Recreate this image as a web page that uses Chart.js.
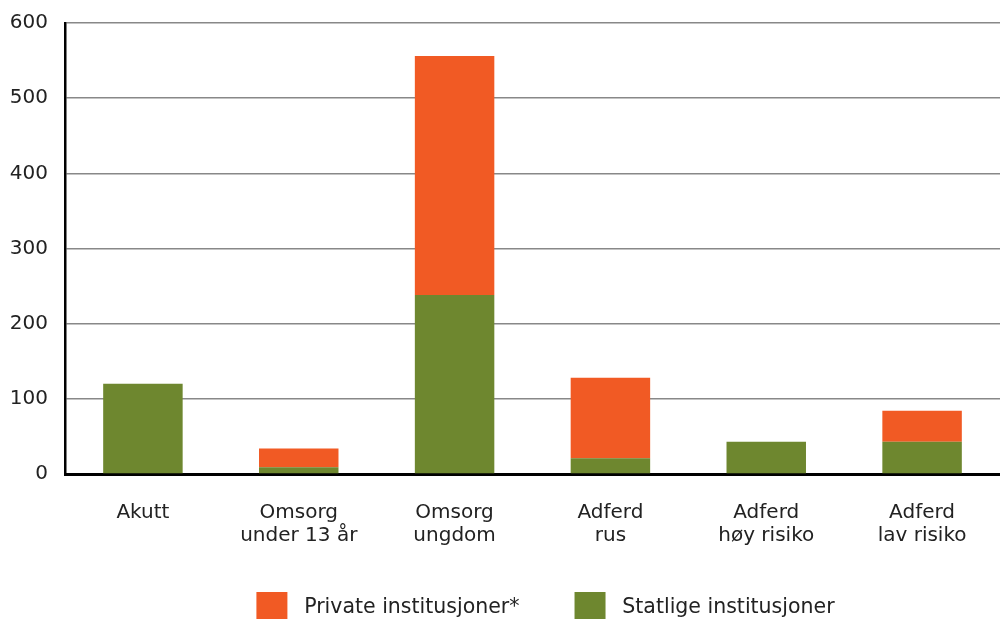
<!DOCTYPE html>
<html>
<head>
<meta charset="utf-8">
<script src="https://cdn.jsdelivr.net/npm/chart.js@4"></script>
<style>
    html, body { margin: 0; padding: 0; background: #fff; overflow: hidden; }
    #wrap { width: 1000px; height: 633px; position: relative; }
</style>
</head>
<body>
<div id="wrap"><canvas id="chart"></canvas></div>
<script>
// Kategorier og verdier lest av figuren
const categories = ['Akutt', ['Omsorg', 'under 13 år'], ['Omsorg', 'ungdom'], ['Adferd', 'rus'], ['Adferd', 'høy risiko'], ['Adferd', 'lav risiko']];
const statlige = [120, 9, 238, 21, 43, 43];
const privateInst = [0, 25, 318, 107, 0, 41];
const seriesNames = ['Statlige institusjoner', 'Private institusjoner*'];
const yTicks = [0, 100, 200, 300, 400, 500, 600];

const GREEN = '#6e872f';
const ORANGE = '#f15a24';
const FONT = 'DejaVu Sans';

// Flytt legenden litt mot høyre, som i originalen
const legendShift = {
    id: 'legendShift',
    afterLayout(chart) {
        chart.legend.left += 47;
        chart.legend.right += 47;
    }
};

const ctx = document.getElementById('chart').getContext('2d');
new Chart(ctx, {
    type: 'bar',
    data: {
        labels: categories,
        datasets: [
            { label: seriesNames[0], data: statlige, backgroundColor: GREEN, borderWidth: 0 },
            { label: seriesNames[1], data: privateInst, backgroundColor: ORANGE, borderWidth: 0 }
        ]
    },
    plugins: [legendShift],
    options: {
        responsive: true,
        maintainAspectRatio: false,
        animation: false,
        layout: { padding: { top: 23, left: 10, right: 0, bottom: 0 } },
        datasets: { bar: { categoryPercentage: 1, barPercentage: 0.51 } },
        plugins: {
            tooltip: { enabled: false },
            legend: {
                position: 'bottom',
                reverse: true,
                labels: {
                    boxWidth: 31,
                    boxHeight: 31,
                    padding: 42,
                    color: '#222',
                    font: { family: FONT, size: 20.5 },
                    // mellomrom for å få riktig avstand mellom boks og tekst
                    generateLabels: (chart) => {
                        const items = Chart.defaults.plugins.legend.labels.generateLabels(chart);
                        items.forEach(it => { it.text = ' ' + it.text + '  '; it.lineWidth = 0; });
                        return items;
                    }
                }
            }
        },
        scales: {
            x: {
                stacked: true,
                grid: { display: false, drawTicks: false },
                border: { display: true, color: '#000', width: 3 },
                afterFit: (scale) => { scale.height = 76; },
                ticks: {
                    color: '#222',
                    padding: 27,
                    maxRotation: 0,
                    autoSkip: false,
                    font: { family: FONT, size: 20, lineHeight: 1.15 }
                }
            },
            y: {
                stacked: true,
                min: 0,
                max: 600,
                afterBuildTicks: (scale) => { scale.ticks = yTicks.map(v => ({ value: v })); },
                afterFit: (scale) => {
                    scale.width = 55;
                    scale.paddingTop = 0;
                    scale.paddingBottom = 0;
                },
                grid: {
                    color: '#888',
                    lineWidth: 1.5,
                    drawTicks: false
                },
                border: { display: true, color: '#000', width: 2.5 },
                ticks: {
                    color: '#222',
                    padding: 17,
                    font: { family: FONT, size: 20 }
                }
            }
        }
    }
});
</script>
</body>
</html>
